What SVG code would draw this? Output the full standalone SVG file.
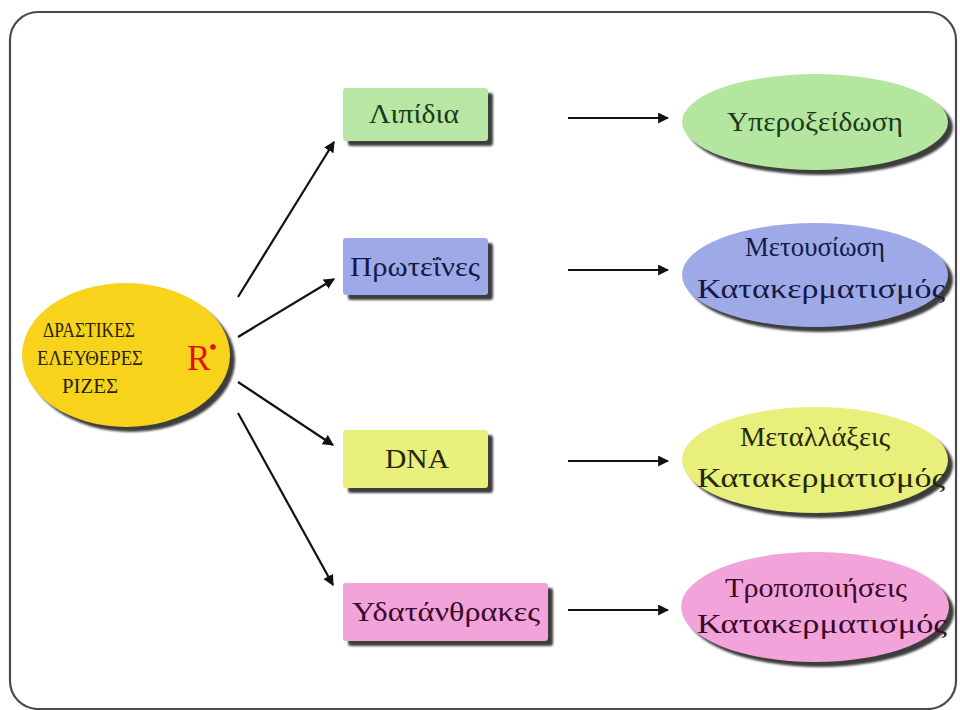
<svg xmlns="http://www.w3.org/2000/svg" width="960" height="710" viewBox="0 0 960 710">
<defs>
<style>
.serif{font-family:"Liberation Serif","DejaVu Serif",serif;}
.box-t{font-size:27px;text-anchor:middle;}
.ell-t{font-size:27px;text-anchor:middle;}
.shadow{fill:#3c3c3c;}
.conn{stroke:#111;stroke-width:2.2;fill:none;marker-end:url(#ah);}
</style>
<marker id="ah" viewBox="0 0 10 10" refX="9" refY="5" markerWidth="5" markerHeight="5" orient="auto" markerUnits="strokeWidth">
<path d="M0,0 L10,5 L0,10 z" fill="#111"/>
</marker>
<filter id="blur" x="-10%" y="-10%" width="130%" height="130%"><feGaussianBlur stdDeviation="1.2"/></filter>
</defs>
<rect x="0" y="0" width="960" height="710" fill="#ffffff"/>
<rect x="10" y="12" width="946" height="697" rx="28" ry="28" fill="#ffffff" stroke="#4a4a4a" stroke-width="2.2"/>

<g id="connectors">
<line class="conn" x1="238" y1="297" x2="334" y2="142"/>
<line class="conn" x1="238" y1="337" x2="334" y2="279"/>
<line class="conn" x1="238" y1="382" x2="333" y2="445"/>
<line class="conn" x1="238" y1="413" x2="333" y2="585"/>
<line class="conn" x1="568" y1="118" x2="668" y2="118"/>
<line class="conn" x1="568" y1="270" x2="668" y2="270"/>
<line class="conn" x1="568" y1="461" x2="668" y2="461"/>
<line class="conn" x1="568" y1="610" x2="668" y2="610"/>
</g>

<g id="radicals">
<ellipse class="shadow" cx="131" cy="360" rx="104" ry="72" filter="url(#blur)"/>
<ellipse cx="126" cy="355" rx="104" ry="72" fill="#f7d31c"/>
<g class="serif" font-size="20" fill="#2a2205" text-anchor="middle">
<text x="89" y="337" textLength="92" lengthAdjust="spacingAndGlyphs">ΔΡΑΣΤΙΚΕΣ</text>
<text x="90" y="365" textLength="106" lengthAdjust="spacingAndGlyphs">ΕΛΕΥΘΕΡΕΣ</text>
<text x="90" y="393" textLength="56" lengthAdjust="spacingAndGlyphs">ΡΙΖΕΣ</text>
</g>
<text class="serif" x="187" y="370" font-size="35" fill="#e01010">R</text>
<circle cx="213" cy="347" r="2.8" fill="#e01010"/>
</g>

<g id="lipidia">
<rect class="shadow" x="348" y="93" width="145" height="53" rx="3" filter="url(#blur)"/>
<rect x="343" y="88" width="145" height="53" rx="3" fill="#b8e6a3"/>
<text class="serif box-t" x="414" y="123" fill="#1c3a18" textLength="90" lengthAdjust="spacingAndGlyphs">Λιπίδια</text>
</g>

<g id="proteines">
<rect class="shadow" x="348" y="243" width="145" height="57" rx="3" filter="url(#blur)"/>
<rect x="343" y="238" width="145" height="57" rx="3" fill="#9eaae8"/>
<text class="serif box-t" x="415" y="276" fill="#151a45" textLength="130" lengthAdjust="spacingAndGlyphs">Πρωτεΐνες</text>
</g>

<g id="dna">
<rect class="shadow" x="348" y="435" width="145" height="58" rx="3" filter="url(#blur)"/>
<rect x="343" y="430" width="145" height="58" rx="3" fill="#e8ef7a"/>
<text class="serif box-t" x="417" y="468" fill="#25280a" textLength="64" lengthAdjust="spacingAndGlyphs">DNA</text>
</g>

<g id="ydatanthrakes">
<rect class="shadow" x="348" y="588" width="205" height="58" rx="3" filter="url(#blur)"/>
<rect x="343" y="583" width="205" height="58" rx="3" fill="#f2a3da"/>
<text class="serif box-t" x="446" y="621" fill="#3a0a2c" textLength="188" lengthAdjust="spacingAndGlyphs">Υδατάνθρακες</text>
</g>

<g id="yperoxeidosi">
<ellipse class="shadow" cx="820" cy="127" rx="133" ry="48" filter="url(#blur)"/>
<ellipse cx="815" cy="122" rx="133" ry="48" fill="#b5e6a0"/>
<text class="serif ell-t" x="815" y="131" fill="#1c3a18" textLength="176" lengthAdjust="spacingAndGlyphs">Υπεροξείδωση</text>
</g>

<g id="metousiosi">
<ellipse class="shadow" cx="820" cy="280" rx="133" ry="52" filter="url(#blur)"/>
<ellipse cx="815" cy="275" rx="133" ry="52" fill="#9eaae8"/>
<text class="serif ell-t" x="815" y="256" fill="#151a45" textLength="140" lengthAdjust="spacingAndGlyphs">Μετουσίωση</text>
<text class="serif ell-t" x="821" y="298" fill="#151a45" textLength="248" lengthAdjust="spacingAndGlyphs">Κατακερματισμός</text>
</g>

<g id="metallaxeis">
<ellipse class="shadow" cx="820" cy="465" rx="133" ry="53" filter="url(#blur)"/>
<ellipse cx="815" cy="460" rx="133" ry="53" fill="#e8ef7a"/>
<text class="serif ell-t" x="815" y="446" fill="#25280a" textLength="150" lengthAdjust="spacingAndGlyphs">Μεταλλάξεις</text>
<text class="serif ell-t" x="821" y="487" fill="#25280a" textLength="248" lengthAdjust="spacingAndGlyphs">Κατακερματισμός</text>
</g>

<g id="tropopoiiseis">
<ellipse class="shadow" cx="820" cy="612" rx="134" ry="55" filter="url(#blur)"/>
<ellipse cx="815" cy="607" rx="134" ry="55" fill="#f2a3da"/>
<text class="serif ell-t" x="816" y="597" fill="#3a0a2c" textLength="182" lengthAdjust="spacingAndGlyphs">Τροποποιήσεις</text>
<text class="serif ell-t" x="822" y="633" fill="#3a0a2c" textLength="250" lengthAdjust="spacingAndGlyphs">Κατακερματισμός</text>
</g>
</svg>
